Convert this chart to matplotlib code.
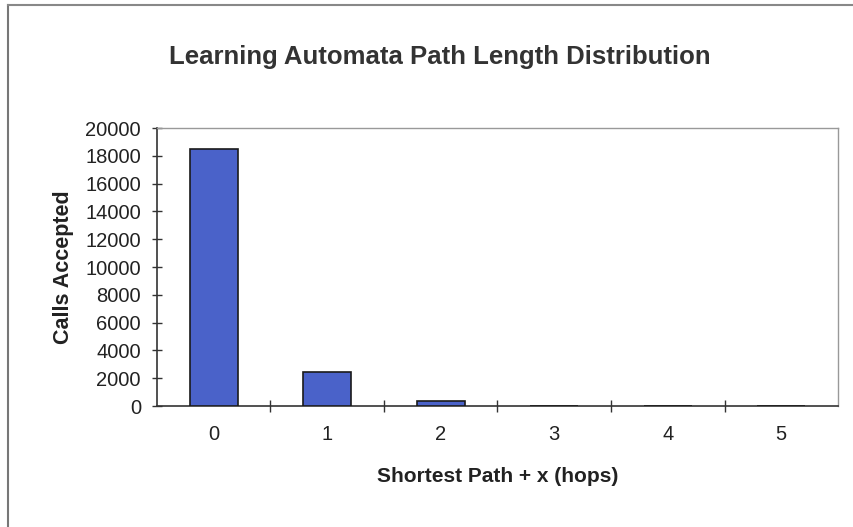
import matplotlib.pyplot as plt
import numpy as np
from matplotlib.lines import Line2D
from matplotlib.ticker import FixedLocator

HOPS = ["0", "1", "2", "3", "4", "5"]
CALLS = [18500, 2450, 330, 30, 8, 0]
Y_TICKS = list(range(0, 20001, 2000))

BAR_COLOR = "#4a62c9"
EDGE = "#1a1a1a"

plt.rcParams["font.family"] = ["Liberation Sans", "DejaVu Sans"]

fig = plt.figure(figsize=(8.54, 5.27), dpi=100)
ax = fig.add_axes([0.1838, 0.2296, 0.9813 - 0.1838, 0.7571 - 0.2296])

x = np.arange(len(HOPS))
ax.bar(x, CALLS, width=0.42, color=BAR_COLOR, edgecolor=EDGE, linewidth=1.2, zorder=3)

ax.set_xlim(-0.5, len(HOPS) - 0.5)
ax.set_ylim(0, 20000)
ax.set_yticks(Y_TICKS)
ax.set_yticklabels([str(v) for v in Y_TICKS], fontsize=14.5, color="#222222")
ax.set_xticks(x)
ax.set_xticklabels(HOPS, fontsize=14.5, color="#222222")
ax.tick_params(axis="x", length=0, pad=14)
ax.xaxis.set_minor_locator(FixedLocator(x[:-1] + 0.5))
ax.tick_params(axis="x", which="minor", length=8, direction="inout", width=1.0, color="#333333")
ax.tick_params(axis="y", length=7, direction="inout", width=1.0, color="#333333", pad=8)

for side in ["left", "bottom"]:
    ax.spines[side].set_color("#333333")
    ax.spines[side].set_linewidth(1.2)
for side in ["top", "right"]:
    ax.spines[side].set_color("#999999")
    ax.spines[side].set_linewidth(1.0)

ax.set_xlabel("Shortest Path + x (hops)", fontsize=15, fontweight="bold", labelpad=16, color="#222222")
ax.set_ylabel("Calls Accepted", fontsize=15.5, fontweight="bold", labelpad=8, color="#222222")
fig.text(0.515, 0.892, "Learning Automata Path Length Distribution", ha="center", va="center",
         fontsize=18.5, fontweight="bold", color="#333333")

# outer chart frame (left and top edges visible in the scan)
fig.add_artist(Line2D([0.009, 0.009], [0.0, 0.99], transform=fig.transFigure, color="#777777", lw=1.5))
fig.add_artist(Line2D([0.009, 1.0], [0.99, 0.99], transform=fig.transFigure, color="#888888", lw=1.5))

fig.savefig("out.png", dpi=100)
